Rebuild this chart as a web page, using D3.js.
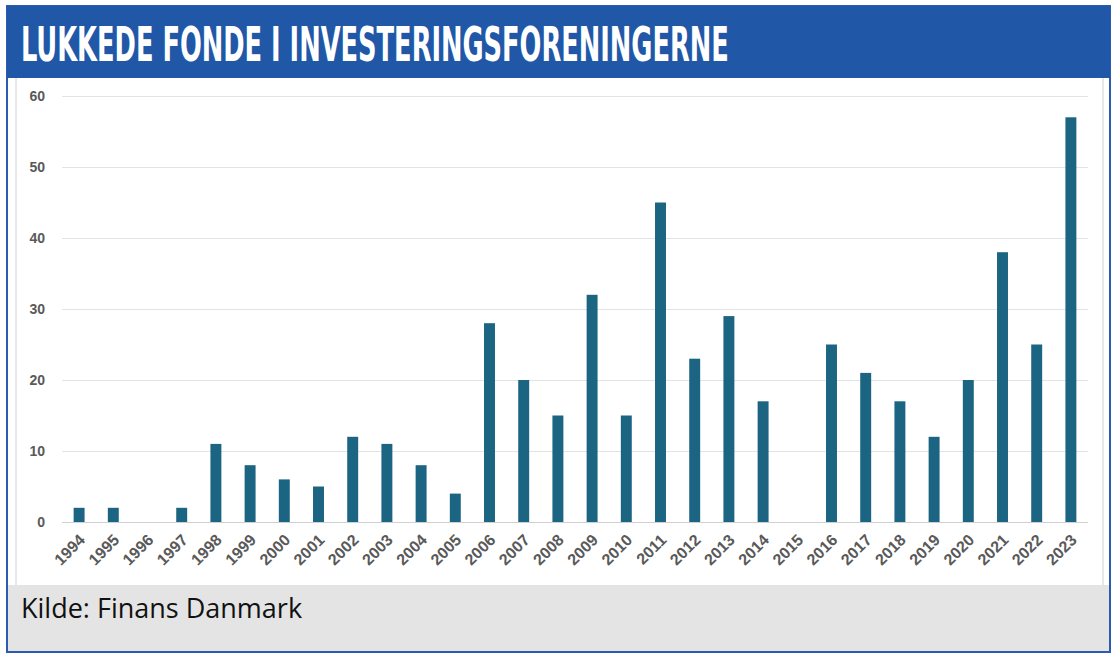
<!DOCTYPE html>
<html><head><meta charset="utf-8">
<script src="https://cdn.jsdelivr.net/npm/d3@7"></script>
<style>body{margin:0;background:#fff;}svg{display:block;}</style>
</head><body>
<script>
const years = ["1994","1995","1996","1997","1998","1999","2000","2001","2002","2003","2004","2005","2006","2007","2008","2009","2010","2011","2012","2013","2014","2015","2016","2017","2018","2019","2020","2021","2022","2023"];
const values = [2,2,0,2,11,8,6,5,12,11,8,4,28,20,15,32,15,45,23,29,17,0,25,21,17,12,20,38,25,57];
const yTicks = [0,10,20,30,40,50,60];
const title = "LUKKEDE FONDE I INVESTERINGSFORENINGERNE";
const source = "Kilde: Finans Danmark";

const W = 1115, H = 659;
const svg = d3.select("body").append("svg").attr("width", W).attr("height", H);

// frame
svg.append("rect").attr("x",7).attr("y",6).attr("width",1103).attr("height",646).attr("fill","#fff").attr("stroke","#2A5BB0").attr("stroke-width",2);
svg.append("rect").attr("x",7).attr("y",6).attr("width",1103).attr("height",72).attr("fill","#2157A7");
svg.append("rect").attr("x",8).attr("y",585).attr("width",1101).attr("height",66).attr("fill","#E4E4E4");
// inner light borders
svg.append("line").attr("x1",16).attr("x2",16).attr("y1",78).attr("y2",585).attr("stroke","#d0d0d0").attr("stroke-width",1);
svg.append("line").attr("x1",1103).attr("x2",1103).attr("y1",78).attr("y2",585).attr("stroke","#d0d0d0").attr("stroke-width",1);

const tg = svg.append("g").attr("transform","translate(21,61)");
const tt = tg.append("text").attr("x",0).attr("y",0).text(title)
  .attr("font-family","DejaVu Sans Condensed, DejaVu Sans").attr("font-weight","bold").attr("font-stretch","condensed")
  .attr("font-size",48).attr("fill","#fff");
const natW = tt.node().getComputedTextLength();
tg.attr("transform",`translate(21,61) scale(${708/natW},1)`);

svg.append("text").attr("x",21).attr("y",618).text(source)
  .attr("font-family","Open Sans").attr("font-size",27).attr("fill","#111");

const x = d3.scaleBand().domain(years).range([62,1088]).paddingInner(0.68).paddingOuter(0.34);
const y = d3.scaleLinear().domain([0,60]).range([522,96]);

const g = svg.append("g");
g.selectAll("line.grid").data(yTicks).enter().append("line")
  .attr("x1",62).attr("x2",1088).attr("y1",d=>y(d)+0.5).attr("y2",d=>y(d)+0.5)
  .attr("stroke", d=> d===0 ? "#d0d0d0" : "#e3e3e3").attr("stroke-width",1);

g.selectAll("text.yt").data(yTicks).enter().append("text")
  .attr("x",45).attr("y",d=>y(d)+5).attr("text-anchor","end").text(d=>d)
  .attr("font-family","Liberation Sans, Arial").attr("font-weight","bold").attr("font-size",14).attr("fill","#595959");

g.selectAll("rect.bar").data(values).enter().append("rect")
  .attr("x",(d,i)=>x(years[i])).attr("width",x.bandwidth())
  .attr("y",d=>y(d)).attr("height",d=>y(0)-y(d)).attr("fill","#1B6482");

g.selectAll("text.xt").data(years).enter().append("text")
  .attr("transform",d=>`translate(${x(d)+x.bandwidth()/2+7},${541}) rotate(-45)`)
  .attr("text-anchor","end").text(d=>d)
  .attr("font-family","Liberation Sans, Arial").attr("font-weight","bold").attr("font-size",16).attr("fill","#595959");
</script>
</body></html>
